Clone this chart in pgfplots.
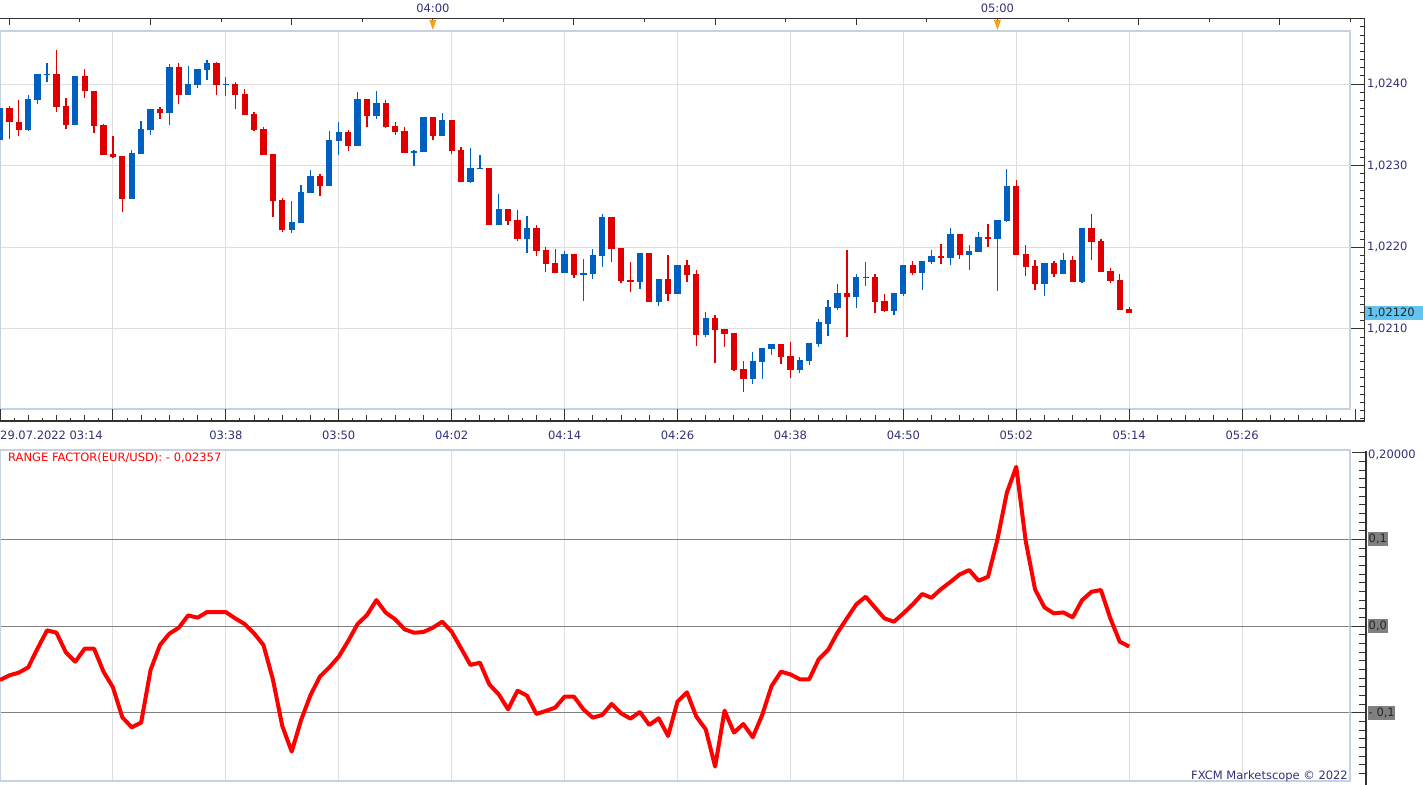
\documentclass[border=0pt]{standalone}
\usepackage{pgfplots}
\pgfplotsset{compat=1.18}
\usepackage{pgfplotstable}
\usepackage{fontspec}
\setmainfont{DejaVu Sans}
\definecolor{cup}{RGB}{0,96,192}
\definecolor{cdn}{RGB}{222,0,0}
\definecolor{lbl}{RGB}{48,48,120}
\definecolor{frm}{RGB}{198,210,224}
\definecolor{grd}{RGB}{222,222,222}
\definecolor{axbl}{RGB}{50,50,50}
\definecolor{hgrid}{RGB}{128,128,128}
\definecolor{pbox}{RGB}{100,196,240}
\definecolor{tri}{RGB}{245,160,30}
\definecolor{rfc}{RGB}{255,0,0}
\newcommand\lf{\fontsize{11.5pt}{13pt}\selectfont}

% up (blue) candles: minute index from 03:14, open, high, low, close
\pgfplotstableread{
t o h l c
0 1.02331 1.02371 1.02331 1.02371
3 1.02344 1.02387 1.02343 1.02382
4 1.02381 1.02412 1.02375 1.02412
5 1.02411 1.02426 1.02402 1.02412
8 1.02350 1.02410 1.02350 1.02410
14 1.02259 1.02319 1.02259 1.02316
15 1.02314 1.02355 1.02314 1.02345
16 1.02344 1.02369 1.02338 1.02369
18 1.02365 1.02424 1.02350 1.02421
20 1.02387 1.02422 1.02387 1.02400
21 1.02399 1.02418 1.02395 1.02418
22 1.02417 1.02429 1.02405 1.02426
24 1.02399 1.02409 1.02385 1.02400
31 1.02221 1.02257 1.02218 1.02231
32 1.02230 1.02276 1.02230 1.02268
33 1.02267 1.02295 1.02267 1.02287
35 1.02275 1.02342 1.02275 1.02331
36 1.02330 1.02353 1.02313 1.02341
38 1.02324 1.02390 1.02324 1.02382
40 1.02361 1.02391 1.02357 1.02377
44 1.02316 1.02319 1.02300 1.02318
45 1.02317 1.02360 1.02317 1.02360
47 1.02336 1.02365 1.02336 1.02356
50 1.02280 1.02322 1.02279 1.02297
51 1.02296 1.02313 1.02296 1.02297
53 1.02227 1.02265 1.02227 1.02247
56 1.02210 1.02238 1.02193 1.02224
60 1.02169 1.02196 1.02169 1.02192
62 1.02166 1.02186 1.02134 1.02169
63 1.02167 1.02198 1.02161 1.02191
64 1.02189 1.02241 1.02176 1.02237
68 1.02158 1.02193 1.02149 1.02193
70 1.02133 1.02161 1.02128 1.02161
72 1.02143 1.02178 1.02143 1.02178
75 1.02093 1.02121 1.02090 1.02114
80 1.02039 1.02072 1.02033 1.02061
81 1.02060 1.02077 1.02039 1.02077
82 1.02076 1.02081 1.02068 1.02081
85 1.02050 1.02066 1.02046 1.02062
86 1.02061 1.02083 1.02056 1.02083
87 1.02082 1.02112 1.02078 1.02108
88 1.02106 1.02136 1.02092 1.02127
89 1.02126 1.02155 1.02123 1.02144
91 1.02139 1.02167 1.02126 1.02164
92 1.02163 1.02182 1.02153 1.02164
95 1.02122 1.02144 1.02117 1.02144
96 1.02143 1.02178 1.02141 1.02178
98 1.02169 1.02183 1.02148 1.02183
99 1.02182 1.02197 1.02180 1.02189
101 1.02187 1.02224 1.02178 1.02216
103 1.02191 1.02203 1.02172 1.02196
104 1.02194 1.02219 1.02194 1.02213
106 1.02210 1.02233 1.02147 1.02233
107 1.02232 1.02296 1.02231 1.02275
111 1.02155 1.02181 1.02141 1.02181
113 1.02167 1.02193 1.02167 1.02185
115 1.02158 1.02224 1.02156 1.02224
}\upc

% down (red) candles
\pgfplotstableread{
t o h l c
1 1.02371 1.02373 1.02333 1.02353
2 1.02353 1.02380 1.02336 1.02344
6 1.02412 1.02442 1.02366 1.02372
7 1.02373 1.02383 1.02345 1.02350
9 1.02410 1.02418 1.02383 1.02391
10 1.02391 1.02391 1.02340 1.02349
11 1.02350 1.02351 1.02313 1.02313
12 1.02314 1.02336 1.02309 1.02311
13 1.02312 1.02312 1.02243 1.02259
17 1.02369 1.02372 1.02357 1.02365
19 1.02421 1.02426 1.02376 1.02387
23 1.02426 1.02427 1.02387 1.02399
25 1.02400 1.02402 1.02369 1.02387
26 1.02388 1.02394 1.02362 1.02362
27 1.02363 1.02366 1.02343 1.02344
28 1.02345 1.02347 1.02313 1.02313
29 1.02314 1.02314 1.02237 1.02257
30 1.02258 1.02260 1.02219 1.02221
34 1.02287 1.02290 1.02263 1.02275
37 1.02341 1.02344 1.02318 1.02324
39 1.02382 1.02382 1.02347 1.02361
41 1.02377 1.02380 1.02346 1.02347
42 1.02349 1.02353 1.02338 1.02341
43 1.02343 1.02347 1.02316 1.02316
46 1.02360 1.02360 1.02331 1.02336
48 1.02356 1.02356 1.02314 1.02318
49 1.02319 1.02323 1.02280 1.02280
52 1.02297 1.02297 1.02227 1.02227
54 1.02247 1.02247 1.02227 1.02232
55 1.02233 1.02246 1.02208 1.02210
57 1.02224 1.02227 1.02189 1.02196
58 1.02197 1.02200 1.02170 1.02180
59 1.02181 1.02198 1.02169 1.02169
61 1.02192 1.02192 1.02163 1.02166
65 1.02237 1.02237 1.02182 1.02198
66 1.02199 1.02199 1.02156 1.02159
67 1.02160 1.02182 1.02145 1.02158
69 1.02193 1.02193 1.02133 1.02133
71 1.02161 1.02191 1.02134 1.02143
73 1.02178 1.02185 1.02158 1.02166
74 1.02167 1.02172 1.02079 1.02093
76 1.02114 1.02117 1.02058 1.02099
77 1.02100 1.02100 1.02078 1.02094
78 1.02095 1.02095 1.02049 1.02050
79 1.02051 1.02061 1.02023 1.02039
83 1.02081 1.02081 1.02057 1.02066
84 1.02067 1.02084 1.02040 1.02050
90 1.02144 1.02197 1.02090 1.02139
93 1.02164 1.02167 1.02120 1.02133
94 1.02134 1.02143 1.02121 1.02122
97 1.02178 1.02183 1.02166 1.02169
100 1.02189 1.02204 1.02180 1.02187
102 1.02216 1.02216 1.02186 1.02191
105 1.02213 1.02229 1.02200 1.02210
108 1.02275 1.02282 1.02191 1.02191
109 1.02192 1.02203 1.02165 1.02176
110 1.02177 1.02185 1.02148 1.02155
112 1.02181 1.02183 1.02164 1.02167
114 1.02185 1.02189 1.02158 1.02158
116 1.02224 1.02241 1.02185 1.02207
117 1.02208 1.02210 1.02170 1.02170
118 1.02171 1.02175 1.02156 1.02159
119 1.02160 1.02167 1.02123 1.02123
120 1.02125 1.02127 1.02120 1.02120
}\dnc

% range factor
\pgfplotstableread{
t v
0 -0.0622
1 -0.0568
2 -0.0537
3 -0.0476
4 -0.0257
5 -0.0050
6 -0.0077
7 -0.0303
8 -0.0411
9 -0.0261
10 -0.0261
11 -0.0526
12 -0.0706
13 -0.1052
14 -0.1167
15 -0.1113
16 -0.0507
17 -0.0219
18 -0.0088
19 -0.0019
20 0.0123
21 0.0096
22 0.0161
23 0.0161
24 0.0161
25 0.0088
26 0.0023
27 -0.0084
28 -0.0219
29 -0.0614
30 -0.1152
31 -0.1447
32 -0.1083
33 -0.0795
34 -0.0583
35 -0.0476
36 -0.0353
37 -0.0173
38 0.0023
39 0.0127
40 0.0299
41 0.0154
42 0.0077
43 -0.0038
44 -0.0077
45 -0.0069
46 -0.0019
47 0.0050
48 -0.0065
49 -0.0257
50 -0.0449
51 -0.0422
52 -0.0672
53 -0.0787
54 -0.0960
55 -0.0745
56 -0.0802
57 -0.1013
58 -0.0979
59 -0.0940
60 -0.0814
61 -0.0814
62 -0.0960
63 -0.1056
64 -0.1025
65 -0.0898
66 -0.1006
67 -0.1067
68 -0.0990
69 -0.1140
70 -0.1063
71 -0.1267
72 -0.0871
73 -0.0764
74 -0.1044
75 -0.1190
76 -0.1620
77 -0.0975
78 -0.1228
79 -0.1129
80 -0.1282
81 -0.1025
82 -0.0691
83 -0.0526
84 -0.0557
85 -0.0614
86 -0.0614
87 -0.0384
88 -0.0276
89 -0.0077
90 0.0088
91 0.0250
92 0.0338
93 0.0211
94 0.0088
95 0.0050
96 0.0146
97 0.0250
98 0.0369
99 0.0326
100 0.0425
101 0.0508
102 0.0595
103 0.0645
104 0.0522
105 0.0568
106 0.0998
107 0.1536
108 0.1835
109 0.0983
110 0.0422
111 0.0215
112 0.0146
113 0.0157
114 0.0100
115 0.0299
116 0.0395
117 0.0415
118 0.0088
119 -0.0180
120 -0.0236
}\rfac

\pgfplotsset{candle/.style={only marks, mark=*, mark size=0pt, mark options={draw=none, fill=none}, forget plot}}

\begin{document}
\begin{tikzpicture}
\path[use as bounding box] (0pt,0pt) rectangle (1423pt,784pt);

% ---------------- price panel ----------------
\begin{axis}[
  at={(0pt,375pt)}, anchor=south west, scale only axis,
  width=1350pt, height=378pt,
  xmin=0, xmax=143.47, ymin=1.02002, ymax=1.02465,
  clip=false,
  axis line style={draw=frm, line width=1.5pt},
  tick style={draw=none},
  xtick={12,24,...,132},
  xticklabels={,03:38,03:50,04:02,04:14,04:26,04:38,04:50,05:02,05:14,05:26},
  xticklabel style={anchor=base, inner sep=0pt, yshift=-31pt, text=lbl, font=\lf},
  ytick={1.021,1.022,1.023,1.024},
  yticklabels={{1,0210},{1,0220},{1,0230},{1,0240}},
  yticklabel pos=right,
  yticklabel style={anchor=west, inner sep=0pt, xshift=17pt, text=lbl, font=\lf},
  grid=major, grid style={grd, line width=1pt},
  error bars/y dir=plus, error bars/y explicit, error bars/error mark=none,
]
\addplot[candle, error bars/error bar style={cup, line width=1.3pt}]
  table[x=t, y=l, y error plus expr=\thisrow{h}-\thisrow{l}] {\upc};
\addplot[candle, error bars/error bar style={cup, line width=6.3pt}]
  table[x=t, y=o, y error plus expr=\thisrow{c}-\thisrow{o}] {\upc};
\addplot[candle, error bars/error bar style={cdn, line width=1.3pt}]
  table[x=t, y=l, y error plus expr=\thisrow{h}-\thisrow{l}] {\dnc};
\addplot[candle, error bars/error bar style={cdn, line width=6.3pt}]
  table[x=t, y=c, y error plus expr=\thisrow{o}-\thisrow{c}] {\dnc};

% outer black frame
\draw[axbl, line width=1.2pt] ([yshift=12.5pt]rel axis cs:0,1) -- ([xshift=14.5pt,yshift=12.5pt]rel axis cs:1,1)
  -- ([xshift=14.5pt,yshift=-12pt]rel axis cs:1,0) -- ([yshift=-12pt]rel axis cs:0,0);
% bottom time ticks
\pgfplotsinvokeforeach{0,12,...,144}{\draw[axbl, line width=1pt] ([yshift=-12pt]axis cs:#1,1.02002) -- (axis cs:#1,1.02002);}
\pgfplotsinvokeforeach{3,6,...,144}{\draw[axbl, line width=1pt] ([yshift=-12pt]axis cs:#1,1.02002) -- ([yshift=-6pt]axis cs:#1,1.02002);}
\pgfplotsinvokeforeach{1.5,4.5,...,142.5}{\draw[axbl, line width=1pt] ([yshift=-12pt]axis cs:#1,1.02002) -- ([yshift=-9pt]axis cs:#1,1.02002);}
% top time ticks
\pgfplotsinvokeforeach{1,8.5,...,143.5}{\draw[axbl, line width=1pt] ([yshift=12.5pt]axis cs:#1,1.02465) -- ([yshift=8.5pt]axis cs:#1,1.02465);}
\pgfplotsinvokeforeach{1,16,...,136}{\draw[axbl, line width=1pt] ([yshift=12.5pt]axis cs:#1,1.02465) -- ([yshift=5.5pt]axis cs:#1,1.02465);}
% hour markers
\pgfplotsinvokeforeach{46,106}{
  \fill[tri] ([yshift=1pt]axis cs:#1,1.02465) -- ([xshift=-3.5pt,yshift=11pt]axis cs:#1,1.02465) -- ([xshift=3.5pt,yshift=11pt]axis cs:#1,1.02465) -- cycle;}
\node[text=lbl, font=\lf, inner sep=0pt] at ([yshift=23pt]axis cs:46,1.02465) {04:00};
\node[text=lbl, font=\lf, inner sep=0pt] at ([yshift=23pt]axis cs:106,1.02465) {05:00};
% right price ticks
\pgfplotsinvokeforeach{199,...,247}{\draw[axbl, line width=1pt] ([xshift=9.5pt]axis cs:143.47,1.0#1) -- ([xshift=14.5pt]axis cs:143.47,1.0#1);}
\pgfplotsinvokeforeach{1.021,1.022,1.023,1.024}{\draw[axbl, line width=1pt] ([xshift=1pt]axis cs:143.47,#1) -- ([xshift=14.5pt]axis cs:143.47,#1);}
% first date label
\node[anchor=base west, inner sep=0pt, yshift=-31pt, text=lbl, font=\lf] at (rel axis cs:0,0) {29.07.2022 03:14};
% current price
\node[anchor=west, fill=pbox, text=black!85, font=\lf, inner xsep=2pt, inner ysep=2pt, text width=54pt, align=left]
  at ([xshift=15pt]axis cs:143.47,1.02120) {1,02120};
\end{axis}

% ---------------- range factor panel ----------------
\begin{axis}[
  at={(0pt,3pt)}, anchor=south west, scale only axis,
  width=1350pt, height=331pt,
  xmin=0, xmax=143.47, ymin=-0.1786, ymax=0.2029,
  clip=false,
  axis line style={draw=frm, line width=1.5pt},
  tick style={draw=none},
  xtick={12,24,...,132}, xticklabel=\empty,
  ytick={-0.1,0,0.1}, yticklabel=\empty,
  xmajorgrids, ymajorgrids,
  x grid style={grd, line width=1pt}, y grid style={hgrid, line width=1pt},
]
\addplot[rfc, line width=4pt, line join=round] table[x=t, y=v] {\rfac};

\pgfplotsinvokeforeach{-0.1,0,0.1}{\draw[hgrid, line width=1pt] (axis cs:143.47,#1) -- ([xshift=16pt]axis cs:143.47,#1);}
\draw[axbl, line width=1.2pt] ([xshift=16pt,yshift=-1pt]rel axis cs:1,1) -- ([xshift=16pt,yshift=-4pt]rel axis cs:1,0);
\pgfplotsinvokeforeach{-0.17,-0.16,...,0.2}{\draw[axbl, line width=1pt] ([xshift=9pt]axis cs:143.47,#1) -- ([xshift=16pt]axis cs:143.47,#1);}
\pgfplotsinvokeforeach{-0.1,0,0.1,0.2}{\draw[axbl, line width=1pt] ([xshift=2pt]axis cs:143.47,#1) -- ([xshift=16pt]axis cs:143.47,#1);}
\node[anchor=west, inner sep=0pt, text=lbl, font=\lf] at ([xshift=18pt,yshift=-2.5pt]axis cs:143.47,0.2) {0,20000};
\node[anchor=west, fill=hgrid, text=black!85, font=\lf, inner xsep=0.5pt, inner ysep=2pt] at ([xshift=18pt]axis cs:143.47,0.1) {0,1};
\node[anchor=west, fill=hgrid, text=black!85, font=\lf, inner xsep=0.5pt, inner ysep=2pt] at ([xshift=18pt]axis cs:143.47,0) {0,0};
\node[anchor=west, fill=hgrid, text=black!85, font=\lf, inner xsep=0.5pt, inner ysep=2pt] at ([xshift=18pt]axis cs:143.47,-0.1) {- 0,1};
\node[anchor=west, inner sep=0pt, text=rfc, font=\lf] at ([xshift=8pt,yshift=-8pt]rel axis cs:0,1) {RANGE FACTOR(EUR/USD): - 0,02357};
\node[anchor=base east, inner sep=0pt, text=lbl, font=\lf] at ([xshift=-2pt,yshift=2pt]rel axis cs:1,0) {FXCM Marketscope © 2022};
\end{axis}
\end{tikzpicture}
\end{document}
